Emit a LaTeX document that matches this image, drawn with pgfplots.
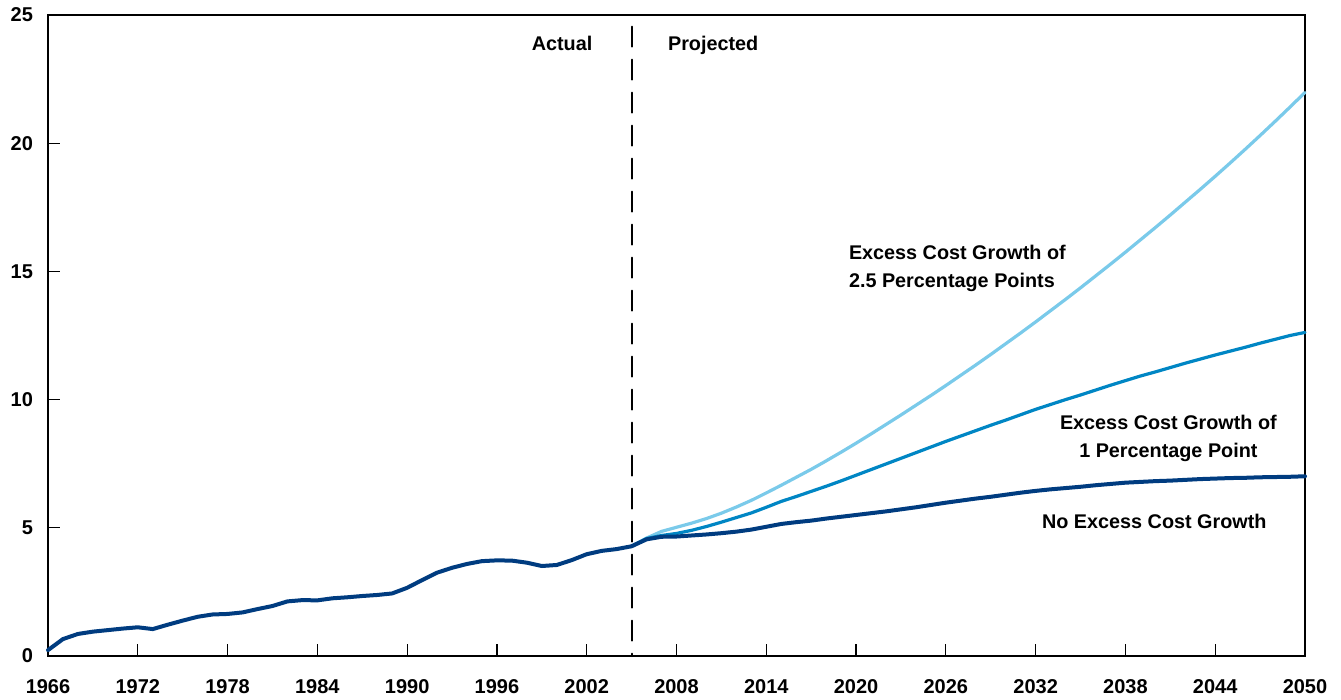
\documentclass[border=0pt]{standalone}
\usepackage{pgfplots}
\pgfplotsset{compat=1.18}
\usepackage{fontspec}
\setmainfont{Liberation Sans}
\usetikzlibrary{calc}

\definecolor{navy}{RGB}{0,60,128}
\definecolor{midblue}{RGB}{0,134,196}
\definecolor{lightblue}{RGB}{122,202,234}
\tikzset{annot/.style={font=\bfseries\fontsize{9.9}{14}\selectfont}}

\begin{document}
\begin{tikzpicture}
  \begin{axis}[
      name=ax,
      scale only axis,
      width=628.5pt,
      height=320.5pt,
      xmin=1966, xmax=2050,
      ymin=0, ymax=25,
      xtick={1966,1972,...,2050},
      ytick={0,5,...,25},
      xtick pos=left,
      ytick pos=left,
      tick align=inside,
      major tick length=6pt,
      tick style={black, line width=0.6pt},
      axis line style={black, line width=1.2pt},
      /pgf/number format/1000 sep={},
      /pgf/number format/assume math mode=true,
      tick label style={font=\bfseries\fontsize{10}{12}\selectfont},
      xticklabel style={yshift=-8pt},
      yticklabel style={xshift=-4pt},
      clip=false,
      every axis plot/.append style={line join=round, line cap=round},
    ]
    % vertical divider actual / projected
    \addplot[black, line width=1pt, dash pattern=on 10pt off 6.5pt] coordinates {
      (2005,24.55) (2005,0)
    };

    % excess cost growth of 2.5 percentage points
    \addplot[lightblue, line width=1.6pt] coordinates {
      (2005,4.28) (2006,4.60) (2007,4.86) (2008,5.02) (2009,5.18) (2010,5.36)
      (2011,5.57) (2012,5.81) (2013,6.07) (2014,6.36) (2015,6.66) (2016,6.97)
      (2017,7.28) (2018,7.61) (2019,7.95) (2020,8.30) (2021,8.66) (2022,9.03)
      (2023,9.40) (2024,9.78) (2025,10.16) (2026,10.55) (2027,10.95) (2028,11.35)
      (2029,11.76) (2030,12.18) (2031,12.60) (2032,13.03) (2033,13.47) (2034,13.91)
      (2035,14.36) (2036,14.82) (2037,15.28) (2038,15.75) (2039,16.23) (2040,16.71)
      (2041,17.20) (2042,17.70) (2043,18.20) (2044,18.71) (2045,19.23) (2046,19.76)
      (2047,20.30) (2048,20.85) (2049,21.41) (2050,21.98)
    };

    % excess cost growth of 1 percentage point
    \addplot[midblue, line width=1.6pt] coordinates {
      (2005,4.28) (2006,4.58) (2007,4.70) (2008,4.78) (2009,4.90) (2010,5.05)
      (2011,5.22) (2012,5.40) (2013,5.58) (2014,5.80) (2015,6.03) (2016,6.22)
      (2017,6.42) (2018,6.62) (2019,6.83) (2020,7.05) (2021,7.27) (2022,7.49)
      (2023,7.71) (2024,7.93) (2025,8.15) (2026,8.37) (2027,8.58) (2028,8.79)
      (2029,9.00) (2030,9.20) (2031,9.41) (2032,9.62) (2033,9.81) (2034,10.00)
      (2035,10.18) (2036,10.37) (2037,10.56) (2038,10.74) (2039,10.92) (2040,11.08)
      (2041,11.25) (2042,11.42) (2043,11.58) (2044,11.74) (2045,11.89) (2046,12.04)
      (2047,12.20) (2048,12.35) (2049,12.50) (2050,12.62)
    };

    % actual, then no excess cost growth
    \addplot[navy, line width=2pt] coordinates {
      (1966,0.23) (1967,0.66) (1968,0.86) (1969,0.95) (1970,1.01) (1971,1.07)
      (1972,1.12) (1973,1.05) (1974,1.22) (1975,1.38) (1976,1.53) (1977,1.62)
      (1978,1.64) (1979,1.70) (1980,1.83) (1981,1.95) (1982,2.13) (1983,2.18)
      (1984,2.17) (1985,2.25) (1986,2.29) (1987,2.34) (1988,2.38) (1989,2.44)
      (1990,2.66) (1991,2.96) (1992,3.25) (1993,3.44) (1994,3.59) (1995,3.70)
      (1996,3.73) (1997,3.72) (1998,3.64) (1999,3.51) (2000,3.55) (2001,3.74)
      (2002,3.97) (2003,4.10) (2004,4.17) (2005,4.28) (2006,4.55) (2007,4.65)
      (2008,4.66) (2009,4.70) (2010,4.74) (2011,4.79) (2012,4.85) (2013,4.93)
      (2014,5.04) (2015,5.15) (2016,5.22) (2017,5.28) (2018,5.36) (2019,5.43)
      (2020,5.50) (2021,5.57) (2022,5.64) (2023,5.72) (2024,5.80) (2025,5.89)
      (2026,5.98) (2027,6.06) (2028,6.14) (2029,6.21) (2030,6.29) (2031,6.37)
      (2032,6.44) (2033,6.50) (2034,6.55) (2035,6.60) (2036,6.66) (2037,6.71)
      (2038,6.76) (2039,6.79) (2040,6.82) (2041,6.84) (2042,6.87) (2043,6.90)
      (2044,6.92) (2045,6.94) (2046,6.95) (2047,6.97) (2048,6.98) (2049,6.99)
      (2050,7.01)
    };

    \node[annot, anchor=base, inner sep=0pt] at (axis cs:2000.35,23.6) {Actual};
    \node[annot, anchor=base, inner sep=0pt] at (axis cs:2010.45,23.6) {Projected};
    \node[annot, anchor=west, align=left, inner sep=0pt] at (axis cs:2019.5,15.13)
      {Excess Cost Growth of\\2.5 Percentage Points};
    \node[annot, align=center] at (axis cs:2040.87,8.48)
      {Excess Cost Growth of\\1 Percentage Point};
    \node[annot] at (axis cs:2039.93,5.24) {No Excess Cost Growth};
  \end{axis}
  % page frame with the reference's margins
  \path ($(ax.south west)+(-24pt,-21pt)$) rectangle ($(ax.north east)+(18pt,7.5pt)$);
\end{tikzpicture}
\end{document}
